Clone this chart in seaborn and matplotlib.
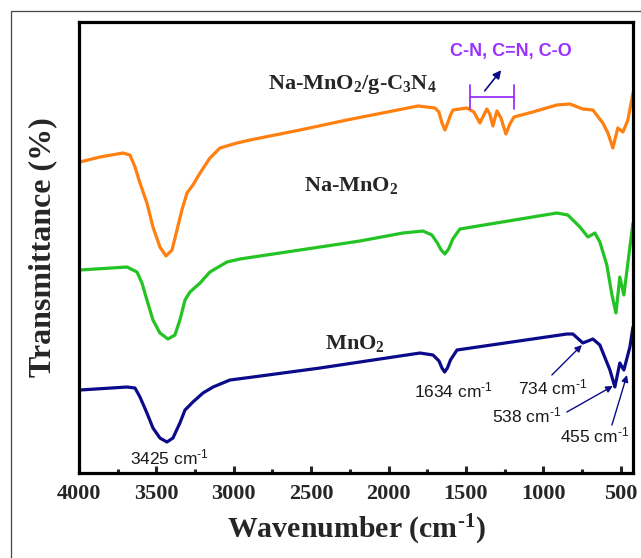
import numpy as np
import pandas as pd
import matplotlib
matplotlib.use('Agg')
import matplotlib.pyplot as plt
from matplotlib.patches import Rectangle
from matplotlib.ticker import MultipleLocator
import seaborn as sns

sns.set_style('white')
plt.rcParams['font.family'] = ['Liberation Serif', 'DejaVu Serif']
plt.rcParams['mathtext.default'] = 'regular'

HY = '\u2010'  # plain hyphen in the superscripts, as in the original figure

# Na-MnO2/g-C3N4 (top trace), offset transmittance units
wn_cn = [3994, 3864, 3716, 3671, 3638, 3606, 3561, 3522, 3477, 3438, 3399, 3367,
         3335, 3302, 3264, 3218, 3154, 3089, 2979, 2895, 2572, 2269, 1810, 1700,
         1675, 1655, 1636, 1618, 1600, 1584, 1494, 1449, 1410, 1365, 1346, 1326,
         1300, 1274, 1242, 1216, 1190, 1068, 913, 829, 745, 680, 616, 583,
         551, 519, 486, 454, 421]
t_cn = [311, 316, 320, 318, 306, 290, 270, 246, 226, 217, 223, 243,
        263, 280, 288, 300, 315, 325, 330, 333, 343, 353, 367, 365,
        361, 350, 343, 350, 358, 363, 365, 361, 350, 364, 359, 347,
        362, 355, 339, 349, 356, 361, 368, 369, 364, 363, 350, 340,
        325, 345, 341, 353, 380]

# Na-MnO2 (middle trace)
wn_na = [3994, 3690, 3625, 3593, 3561, 3522, 3477, 3425, 3380, 3348, 3315, 3283,
         3218, 3154, 3044, 2960, 2443, 2185, 1907, 1778, 1720, 1685, 1660, 1636,
         1612, 1585, 1539, 913, 842, 764, 712, 667, 635, 590, 557, 531,
         506, 480, 441, 421]
t_na = [203, 206, 201, 190, 173, 153, 140, 134, 138, 153, 173, 181,
        190, 201, 211, 214, 226, 232, 240, 242, 238, 230, 223, 219,
        224, 234, 244, 260, 258, 246, 236, 240, 231, 208, 178, 160,
        196, 178, 226, 250]

# MnO2 (bottom trace)
wn_mn = [3994, 3690, 3638, 3606, 3561, 3522, 3477, 3432, 3393, 3348, 3315, 3264,
         3199, 3134, 3025, 2876, 2443, 2056, 1797, 1713, 1674, 1655, 1638, 1620,
         1600, 1558, 848, 809, 745, 680, 635, 570, 538, 506, 480, 441, 421]
t_mn = [83, 86, 85, 76, 60, 45, 35, 31, 35, 50, 63, 71,
        80, 86, 93, 96, 105, 114, 120, 118, 112, 105, 101, 105,
        113, 123, 139, 139, 130, 134, 128, 103, 86, 110, 103, 126, 146]

sample_names = ['Na-MnO$_2$/g-C$_3$N$_4$', 'Na-MnO$_2$', 'MnO$_2$']
sample_colors = ['#FF7F0F', '#22C322', '#0A0A8A']

# peak labels: text, text position, arrow tail, arrow head
peaks = [
    ('3425 cm$^{%s1}$' % HY, (3412, 16), None, None),
    ('1634 cm$^{%s1}$' % HY, (1578, 83), None, None),
    ('734 cm$^{%s1}$' % HY, (938, 86), (945, 98), (751, 128)),
    ('538 cm$^{%s1}$' % HY, (1106, 58), (848, 61), (551, 87)),
    ('455 cm$^{%s1}$' % HY, (667, 38), (557, 48), (460, 98)),
]

fig = plt.figure(figsize=(6.41, 5.58), dpi=100)
ax = fig.add_axes([0.1232, 0.1523, 0.8643, 0.8083])

traces = [(wn_cn, t_cn), (wn_na, t_na), (wn_mn, t_mn)]
for (wn, t), name, col in zip(traces, sample_names, sample_colors):
    df = pd.DataFrame({'wavenumber': wn, 'T': t})
    sns.lineplot(data=df, x='wavenumber', y='T', color=col, lw=2.3, ax=ax)

ax.set_xlim(4000, 421)
ax.set_ylim(0, 451)
ax.set_yticks([])
ax.xaxis.set_major_locator(MultipleLocator(500))
ax.xaxis.set_minor_locator(MultipleLocator(250))
ax.tick_params(axis='x', which='major', direction='in', length=5, width=2.2,
               bottom=True, pad=8, labelsize=16)
ax.tick_params(axis='x', which='minor', direction='in', length=3, width=2.2, bottom=True)
for lab in ax.get_xticklabels():
    lab.set_fontweight('bold')
for sp in ax.spines.values():
    sp.set_linewidth(2.3)
    sp.set_color('black')

ax.set_xlabel('Wavenumber (cm$^{%s1}$)' % HY, fontsize=21.5, fontweight='bold', labelpad=6)
ax.set_ylabel('Transmittance (%)', fontsize=23, fontweight='bold', labelpad=16)

# sample names
ax.text(2237, 388, sample_names[0], fontsize=16, fontweight='bold', ha='center', va='center')
ax.text(2243, 287, sample_names[1], fontsize=16, fontweight='bold', ha='center', va='center')
ax.text(2217, 130, sample_names[2], fontsize=16, fontweight='bold', ha='center', va='center')

# g-C3N4 bands
purple = '#9B30FF'
ax.text(1210, 421, 'C-N, C=N, C-O', fontsize=13, fontweight='bold', color=purple,
        family=['Liberation Sans', 'DejaVu Sans'], ha='center', va='center')
ax.plot([1475, 1190], [376, 376], color=purple, lw=1.3)
ax.plot([1475, 1475], [364, 388], color=purple, lw=1.3)
ax.plot([1190, 1190], [364, 388], color=purple, lw=1.3)
ax.annotate('', xy=(1261, 405), xytext=(1390, 380),
            arrowprops=dict(arrowstyle='-|>', color='#0A0A8A', lw=1.2, mutation_scale=12))

for label, pos, tail, head in peaks:
    ax.text(pos[0], pos[1], label, fontsize=12.5, family=['Liberation Sans', 'DejaVu Sans'],
            ha='center', va='center', color='#1a1a1a')
    if tail is not None:
        ax.annotate('', xy=head, xytext=tail,
                    arrowprops=dict(arrowstyle='-|>', color='#0A0A8A', lw=1.0,
                                    mutation_scale=10, shrinkA=0, shrinkB=0))

# thin outer frame
fig.patches.append(Rectangle((11 / 641, -0.2), 1.2, 1.2 - 11 / 558, transform=fig.transFigure,
                             fill=False, edgecolor='#444444', lw=0.9))

fig.savefig('out.png', dpi=100)
